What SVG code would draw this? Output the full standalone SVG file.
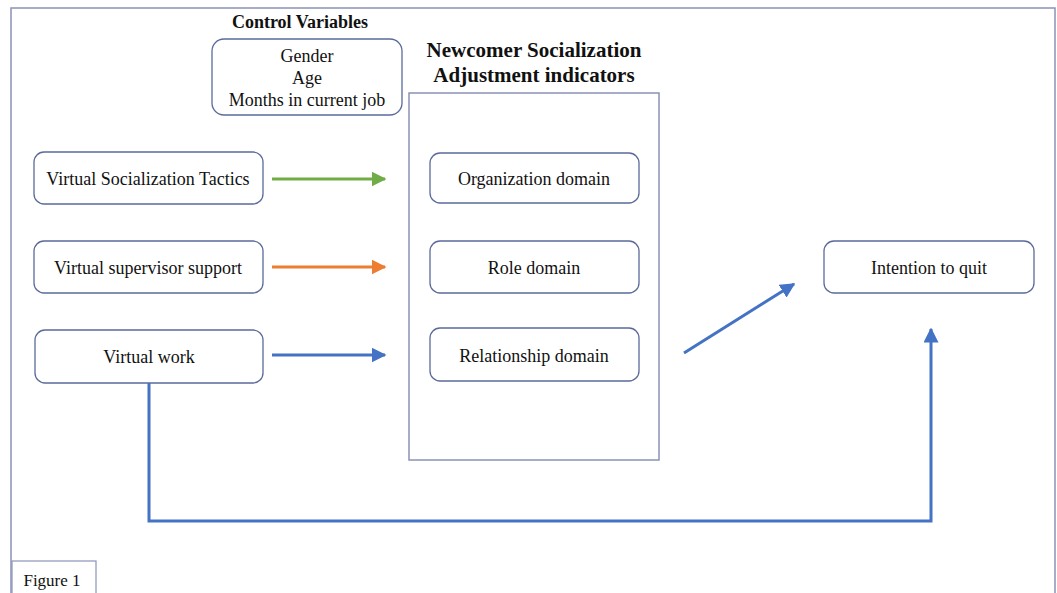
<svg xmlns="http://www.w3.org/2000/svg" width="1057" height="593" viewBox="0 0 1057 593">
<defs>
<style>
.t{font-family:"Liberation Serif","Times New Roman",serif;font-size:18px;fill:#111;text-anchor:middle}
.b{font-weight:bold}
.n{fill:#fff;stroke:#5b6a9a;stroke-width:1.3}
.frame{fill:none;stroke:#8a93b8;stroke-width:1.5}
.c{fill:none;stroke-width:3}
</style>
<marker id="ab" viewBox="0 0 10 10" refX="9" refY="5" markerWidth="5" markerHeight="5" orient="auto" markerUnits="strokeWidth"><path d="M0,0L10,5L0,10z" fill="#4472c4"/></marker>
<marker id="ag" viewBox="0 0 10 10" refX="9" refY="5" markerWidth="5" markerHeight="5" orient="auto" markerUnits="strokeWidth"><path d="M0,0L10,5L0,10z" fill="#70ad47"/></marker>
<marker id="ao" viewBox="0 0 10 10" refX="9" refY="5" markerWidth="5" markerHeight="5" orient="auto" markerUnits="strokeWidth"><path d="M0,0L10,5L0,10z" fill="#ed7d31"/></marker>
</defs>
<rect width="1057" height="593" fill="#fff"/>
<rect class="frame" x="11" y="8" width="1044" height="600"/>

<g id="control">
<text class="t b" x="300" y="28">Control Variables</text>
<rect class="n" x="212" y="39" width="190" height="76" rx="12"/>
<text class="t" x="307" y="62">Gender</text>
<text class="t" x="307" y="84">Age</text>
<text class="t" x="307" y="106">Months in current job</text>
</g>

<g id="adjustment">
<text class="t b" x="534" y="57" style="font-size:21px">Newcomer Socialization</text>
<text class="t b" x="534" y="82" style="font-size:21px">Adjustment indicators</text>
<rect x="409" y="93" width="250" height="367" fill="#fff" stroke="#8a93b8" stroke-width="1.5"/>
</g>

<g id="vst"><rect class="n" x="34" y="152" width="229" height="52" rx="10"/><text class="t" x="148" y="185">Virtual Socialization Tactics</text></g>
<g id="vss"><rect class="n" x="34" y="241" width="229" height="52" rx="10"/><text class="t" x="148" y="274">Virtual supervisor support</text></g>
<g id="vw"><rect class="n" x="35" y="330" width="228" height="53" rx="10"/><text class="t" x="149" y="363">Virtual work</text></g>

<g id="org"><rect class="n" x="430" y="153" width="209" height="50" rx="10"/><text class="t" x="534" y="185">Organization domain</text></g>
<g id="role"><rect class="n" x="430" y="241" width="209" height="52" rx="10"/><text class="t" x="534" y="274">Role domain</text></g>
<g id="rel"><rect class="n" x="430" y="328" width="209" height="53" rx="10"/><text class="t" x="534" y="362">Relationship domain</text></g>

<g id="itq"><rect class="n" x="824" y="241" width="210" height="52" rx="10"/><text class="t" x="929" y="274">Intention to quit</text></g>

<g id="connectors">
<path class="c" d="M272,179H385" stroke="#70ad47" marker-end="url(#ag)"/>
<path class="c" d="M272,267H385" stroke="#ed7d31" marker-end="url(#ao)"/>
<path class="c" d="M272,355H385" stroke="#4472c4" marker-end="url(#ab)"/>
<path class="c" d="M684,353L794,284" stroke="#4472c4" marker-end="url(#ab)"/>
<path class="c" d="M149,383V521H931V329" stroke="#4472c4" marker-end="url(#ab)"/>
</g>

<g id="figure">
<rect x="12" y="561" width="84" height="40" fill="#fff" stroke="#8a93b8" stroke-width="1.2"/>
<text class="t" x="52" y="586" style="font-size:17px">Figure 1</text>
</g>
</svg>
